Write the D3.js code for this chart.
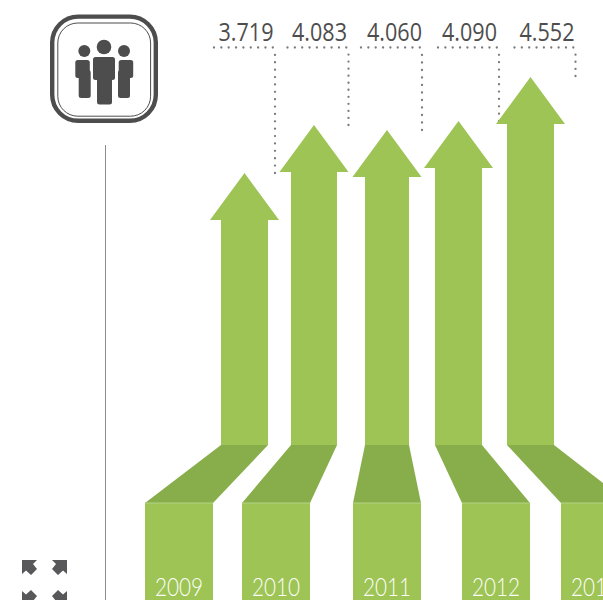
<!DOCTYPE html>
<html><head><meta charset="utf-8">
<script src="https://cdn.jsdelivr.net/npm/d3@7/dist/d3.min.js"></script>
<style>html,body{margin:0;padding:0;background:#fff;overflow:hidden}svg{display:block}</style>
</head><body><svg id="c" width="603" height="600"></svg>
<script>
const years = ["2009","2010","2011","2012","2013"];
const values = [3.719,4.083,4.060,4.090,4.552];
const valueLabels = ["3.719","4.083","4.060","4.090","4.552"];

const green="#9dc454", dark="#88ad4b", ink="#4d4d4d", dot="#7a7a7a";
const svg=d3.select("#c");

// Scales
const sortedVals=[...values].sort(d3.ascending);
const yTip=d3.scaleLinear().domain(sortedVals).range([173,130,125,121,77]);
const xArrow=d3.scaleOrdinal().domain(years).range([244.5,314,387,458.5,530.5]);
const bodyHalf=d3.scaleOrdinal().domain(years).range([23.5,23,22,23.5,23.5]);
const xBase=d3.scaleOrdinal().domain(years).range([179,276,387,496,595]);
const xLabel=d3.scaleOrdinal().domain(years).range([246,319.5,394.5,469.5,547]);
const xLeader=d3.scaleOrdinal().domain(years).range([275,348.5,422,499,575.5]);

const bodyBottom=445, baseTop=503, headHalf=34.5, headH=47, baseHalf=34;

const rows=d3.zip(years,values,valueLabels).map(([year,value,label])=>({year,value,label}));
const g=svg.selectAll("g.arrow").data(rows).join("g").attr("class","arrow");

// dotted leaders, behind arrows
function dots(sel,k,a){sel.selectAll("circle."+k).data(a).join("circle").attr("class",k)
  .attr("cx",d=>d[0]).attr("cy",d=>d[1]).attr("r",1.15).attr("fill",dot);}
g.each(function(d){
  const x=xLeader(d.year), sel=d3.select(this), end=yTip(d.value)-(d.year==="2013"?1:0);
  const h=d3.range(x-61,x+0.5,7.35).map(v=>[v,47.5]);
  const n=Math.round((end-47.5)/7.2);
  const v=d3.range(1,n+1).map(i=>[x,47.5+i*(end-47.5)/n]);
  dots(sel,"h",h); dots(sel,"v",v);
});

const line=d3.line();
g.append("path").attr("fill",dark).attr("d",d=>{
  const a=xArrow(d.year),b=xBase(d.year),w=bodyHalf(d.year);
  return line([[a-w,bodyBottom],[a+w,bodyBottom],[b+baseHalf,baseTop],[b-baseHalf,baseTop]])+"Z";
});
g.append("path").attr("fill",green).attr("d",d=>{
  const a=xArrow(d.year),t=yTip(d.value),w=bodyHalf(d.year);
  return line([[a,t],[a+headHalf,t+headH],[a+w,t+headH],[a+w,bodyBottom],[a-w,bodyBottom],[a-w,t+headH],[a-headHalf,t+headH]])+"Z";
});
g.append("rect").attr("fill",green).attr("x",d=>xBase(d.year)-baseHalf).attr("y",baseTop)
  .attr("width",baseHalf*2).attr("height",600-baseTop);
g.append("line").attr("stroke","#b5d384").attr("stroke-width",1)
  .attr("x1",d=>xBase(d.year)-baseHalf).attr("x2",d=>xBase(d.year)+baseHalf).attr("y1",baseTop).attr("y2",baseTop);
g.append("text").text(d=>d.year).attr("x",d=>xBase(d.year)).attr("y",595.7)
  .attr("text-anchor","middle").attr("fill","#ffffff")
  .style("font-family","Lato").style("font-weight",300).style("font-size","25px")
  .attr("textLength",48).attr("lengthAdjust","spacingAndGlyphs");
g.append("text").text(d=>d.label).attr("x",d=>xLabel(d.year)).attr("y",41)
  .attr("text-anchor","middle").attr("fill",ink)
  .style("font-family","'Open Sans'").style("font-weight",400).style("font-size","25px")
  .attr("textLength",55).attr("lengthAdjust","spacingAndGlyphs");

// vertical rule
svg.append("line").attr("x1",105.5).attr("x2",105.5).attr("y1",145).attr("y2",600).attr("stroke","#8c8c8c").attr("stroke-width",1);

// icon badge
const icon=svg.append("g");
icon.append("rect").attr("x",52.2).attr("y",16.6).attr("width",103.6).attr("height",104.2).attr("rx",26)
  .attr("fill","none").attr("stroke",ink).attr("stroke-width",4.4);
icon.append("rect").attr("x",57.8).attr("y",23).attr("width",92.8).attr("height",93.2).attr("rx",20)
  .attr("fill","none").attr("stroke",ink).attr("stroke-width",1);
[[84.3,51,6],[104,47,7.3],[124,51,6]].forEach(c=>icon.append("circle").attr("cx",c[0]).attr("cy",c[1]).attr("r",c[2]).attr("fill",ink));
[[93,57,22,23],[97,70,15,34.5],[75.3,60,14.5,18],[78.7,70,12,28],[118.7,60,14.5,18],[118,70,12,28]]
 .forEach(r=>icon.append("rect").attr("x",r[0]).attr("y",r[1]).attr("width",r[2]).attr("height",r[3]).attr("rx",2.5).attr("fill",ink));

// expand glyph
const arrowShape=[[0,0],[15,0],[11,4],[15,9],[9,15],[4,10.5],[0,14]];
[[22,560,1,1],[67,560,-1,1],[22,605,1,-1],[67,605,-1,-1]].forEach(([x,y,sx,sy])=>{
  svg.append("path").attr("fill","#58585a").attr("transform",`translate(${x},${y}) scale(${sx},${sy})`).attr("d",line(arrowShape)+"Z");
});
</script></body></html>
